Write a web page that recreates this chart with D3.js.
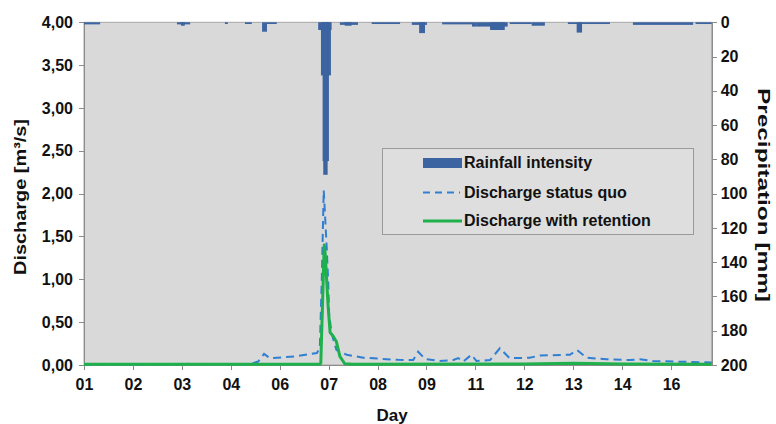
<!DOCTYPE html>
<meta charset="utf-8">
<style>
body { margin: 0; background: #fff; }
svg { font-family: "Liberation Sans", Arial, sans-serif; }
.axis path, .axis line { fill: none; stroke: #8c8c8c; shape-rendering: crispEdges; }
.axis text { font-size: 16px; font-weight: bold; fill: #111; }
.title { font-size: 17px; font-weight: bold; fill: #111; }
.legend text { font-size: 16px; font-weight: bold; fill: #111; }
</style>
<body>
<script src="https://d3js.org/d3.v7.min.js"></script>
<script>
// x positions are in tick units (0 = "01", 12 = "16")
var dayLabels = ["01","02","03","04","06","07","08","09","11","12","13","14","16"];
var dischargeTicks = [0, 0.5, 1, 1.5, 2, 2.5, 3, 3.5, 4];
var precipTicks = [0, 20, 40, 60, 80, 100, 120, 140, 160, 180, 200];

// rainfall blocks: [from, to, mm] (nested blocks overlap)
var rainfall = [
  [0.00, 0.33, 1.2], [1.90, 2.17, 1.2], [1.98, 2.06, 2.0], [2.88, 2.94, 1.0],
  [3.29, 3.43, 1.0], [3.64, 3.74, 5.5], [3.74, 3.94, 1.0],
  [4.787, 5.061, 4.5], [4.843, 5.047, 31], [4.877, 5.006, 81], [4.890, 4.980, 89],
  [5.23, 5.60, 1.5], [5.33, 5.47, 2.0], [5.88, 6.46, 1.0],
  [6.70, 7.01, 1.5], [6.85, 6.97, 6.3], [7.32, 7.93, 1.2], [7.93, 8.03, 2.5],
  [8.03, 8.66, 2.5], [8.30, 8.60, 4.5], [8.70, 9.15, 1.0], [9.15, 9.42, 2.0],
  [9.89, 10.75, 1.0], [10.07, 10.18, 6.0], [11.22, 12.45, 1.5], [12.50, 12.83, 1.0]
];

// discharge status quo: [t, m3/s]
var statusQuo = [
  [0, 0.005], [1.96, 0.005], [2.04, 0.02], [2.17, 0.01], [3.39, 0.01], [3.56, 0.04],
  [3.68, 0.13], [3.80, 0.08], [4.31, 0.10], [4.76, 0.14], [4.82, 0.20], [4.86, 1.00],
  [4.90, 2.04], [4.96, 1.38], [4.99, 0.99], [5.01, 0.60], [5.06, 0.37], [5.16, 0.175],
  [5.37, 0.12], [5.71, 0.085], [6.42, 0.06], [6.73, 0.058], [6.83, 0.155], [6.97, 0.07],
  [7.27, 0.047], [7.55, 0.058], [7.65, 0.08], [7.75, 0.04], [7.92, 0.12], [8.02, 0.047],
  [8.30, 0.058], [8.50, 0.195], [8.70, 0.08], [9.11, 0.085], [9.32, 0.11], [9.93, 0.12],
  [10.08, 0.175], [10.27, 0.085], [10.68, 0.067], [11.16, 0.058], [11.36, 0.067],
  [11.63, 0.047], [12.04, 0.04], [12.83, 0.03]
];

// discharge with retention: [t, m3/s]
var withRetention = [
  [0, 0.01], [4.82, 0.01], [4.84, 0.02], [4.91, 1.40], [4.93, 1.30], [4.99, 0.68],
  [5.03, 0.38], [5.09, 0.34], [5.16, 0.27], [5.23, 0.10], [5.33, 0.015], [5.5, 0.01],
  [9.0, 0.012], [10.0, 0.02], [11.0, 0.012], [12.83, 0.008]
];

var plotLeft = 84, plotRight = 711.7, plotTop = 22.3, plotBottom = 365;

var svg = d3.select("body").append("svg")
  .attr("width", 776)
  .attr("height", 424);

var x = d3.scaleLinear().domain([0, 12.83]).range([plotLeft, plotRight]);
var y = d3.scaleLinear().domain([0, 4]).range([plotBottom, plotTop]);
var y2 = d3.scaleLinear().domain([0, 200]).range([plotTop, plotBottom]);

// plot background
svg.append("rect")
  .attr("x", plotLeft).attr("y", plotTop)
  .attr("width", plotRight - plotLeft).attr("height", plotBottom - plotTop)
  .attr("fill", "#d9d9d9")
  .attr("stroke", "#a6a6a6");

var comma = function (d) { return d3.format(".2f")(d).replace(".", ","); };

svg.append("g")
  .attr("class", "axis")
  .attr("transform", "translate(" + plotLeft + ",0)")
  .call(d3.axisLeft(y).tickValues(dischargeTicks).tickFormat(comma).tickSize(5).tickSizeOuter(0).tickPadding(6));

svg.append("g")
  .attr("class", "axis")
  .attr("transform", "translate(" + plotRight + ",0)")
  .call(d3.axisRight(y2).tickValues(precipTicks).tickSize(5).tickSizeOuter(0).tickPadding(4));

svg.append("g")
  .attr("class", "axis")
  .attr("transform", "translate(0," + plotBottom + ")")
  .call(d3.axisBottom(x).tickValues(d3.range(dayLabels.length))
    .tickFormat(function (d) { return dayLabels[d]; })
    .tickSize(5).tickSizeOuter(0).tickPadding(9));

// rainfall hanging from the top
svg.append("g").selectAll("rect")
  .data(rainfall)
  .enter().append("rect")
    .attr("x", function (d) { return x(d[0]); })
    .attr("width", function (d) { return Math.max(1, x(d[1]) - x(d[0])); })
    .attr("y", y2(0))
    .attr("height", function (d) { return y2(d[2]) - y2(0); })
    .attr("fill", "#3b64a0");

var line = d3.line()
  .x(function (d) { return x(d[0]); })
  .y(function (d) { return y(d[1]); });

svg.append("path")
  .datum(statusQuo)
  .attr("d", line)
  .attr("fill", "none")
  .attr("stroke", "#2f7fd3")
  .attr("stroke-width", 2)
  .attr("stroke-dasharray", "8,5");

svg.append("path")
  .datum(withRetention)
  .attr("d", line)
  .attr("fill", "none")
  .attr("stroke", "#1db04b")
  .attr("stroke-width", 3)
  .attr("stroke-linejoin", "round");

// titles
svg.append("text").attr("class", "title")
  .attr("x", 392).attr("y", 421)
  .attr("text-anchor", "middle")
  .text("Day");

svg.append("text").attr("class", "title")
  .attr("transform", "translate(26,197) rotate(-90)")
  .attr("text-anchor", "middle")
  .attr("textLength", 156)
  .attr("lengthAdjust", "spacingAndGlyphs")
  .text("Discharge [m³/s]");

svg.append("text").attr("class", "title")
  .attr("transform", "translate(758,195) rotate(90)")
  .attr("text-anchor", "middle")
  .attr("textLength", 214)
  .attr("lengthAdjust", "spacingAndGlyphs")
  .text("Precipitation [mm]");

// legend
var legend = svg.append("g").attr("class", "legend");
legend.append("rect")
  .attr("x", 382.5).attr("y", 148.5)
  .attr("width", 311).attr("height", 86)
  .attr("fill", "#dedede")
  .attr("stroke", "#9a9a9a");

legend.append("rect")
  .attr("x", 423).attr("y", 158)
  .attr("width", 39).attr("height", 10)
  .attr("fill", "#3b64a0");
legend.append("text").attr("x", 464).attr("y", 168).text("Rainfall intensity");

legend.append("line")
  .attr("x1", 423).attr("x2", 460).attr("y1", 192.5).attr("y2", 192.5)
  .attr("stroke", "#2f7fd3").attr("stroke-width", 2).attr("stroke-dasharray", "7,5");
legend.append("text").attr("x", 464).attr("y", 198).text("Discharge status quo");

legend.append("line")
  .attr("x1", 423).attr("x2", 462).attr("y1", 221).attr("y2", 221)
  .attr("stroke", "#1db04b").attr("stroke-width", 3);
legend.append("text").attr("x", 464).attr("y", 226).text("Discharge with retention");
</script>
</body>
